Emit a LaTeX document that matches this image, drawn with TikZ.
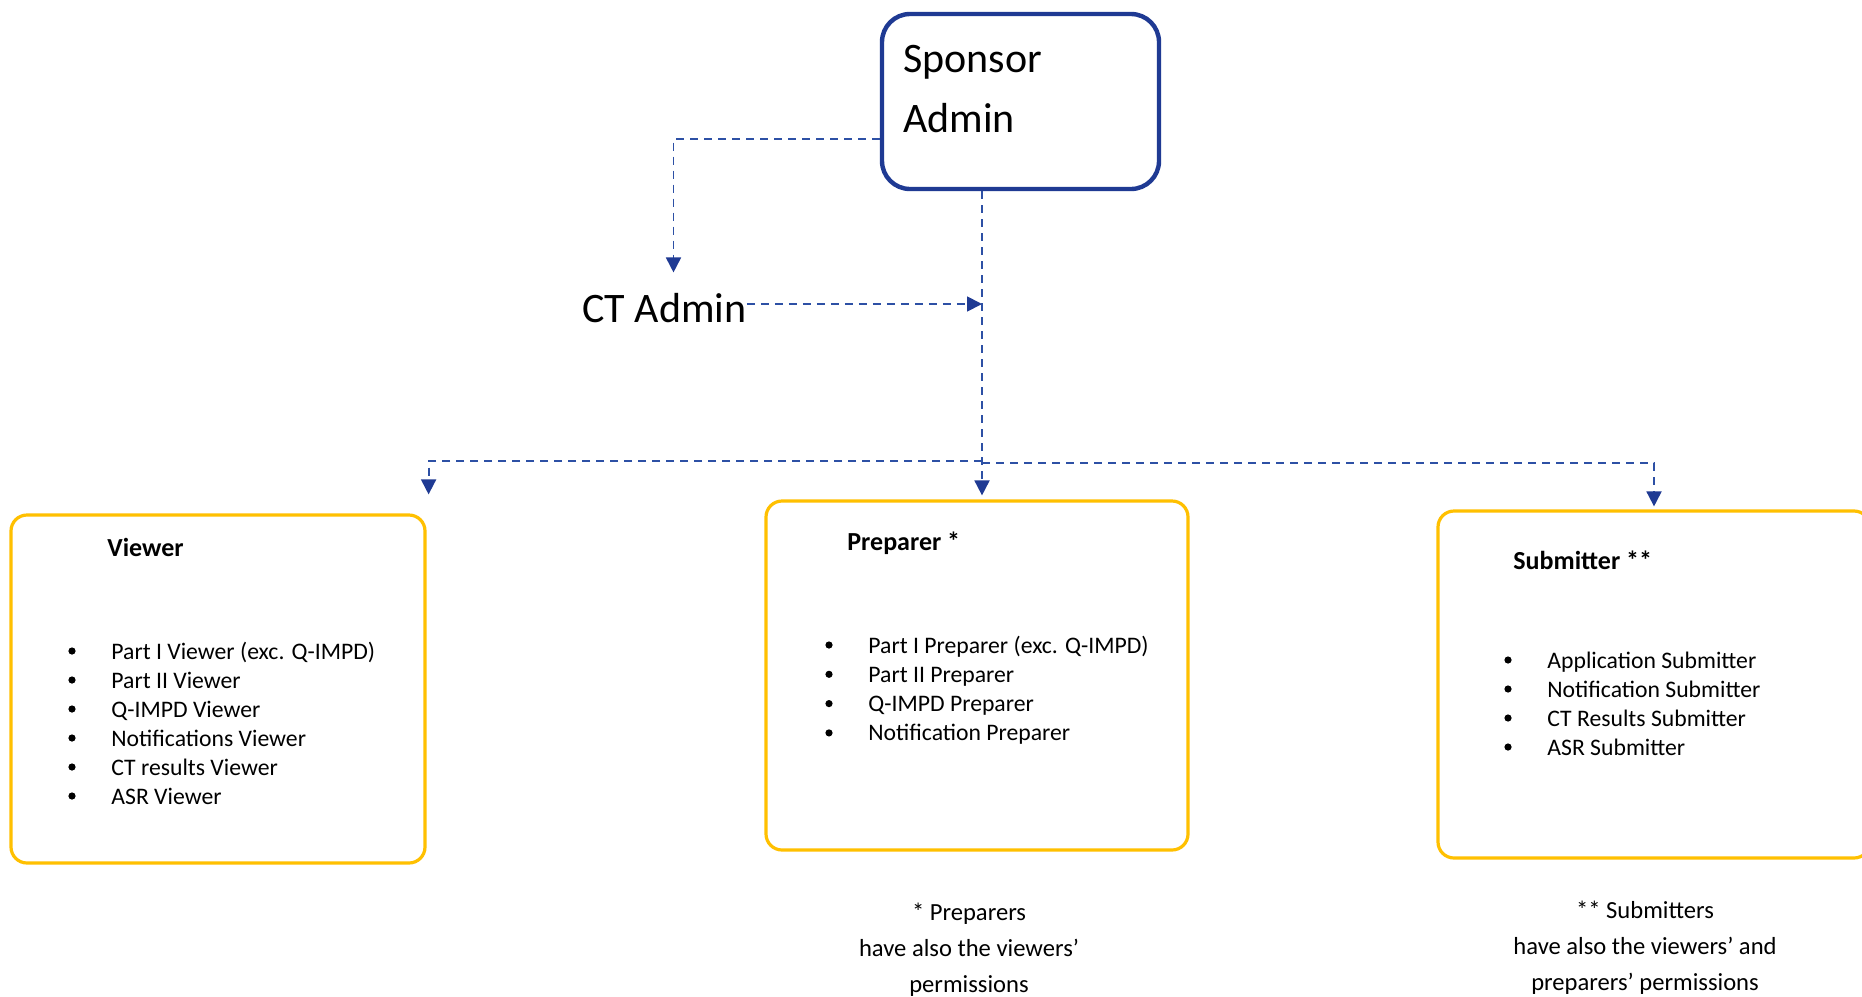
\documentclass[tikz,border=0pt]{standalone}
\usepackage{fontspec}
\setmainfont{Carlito}
\usetikzlibrary{arrows.meta}
\definecolor{navy}{RGB}{31,58,147}
\definecolor{dashblue}{RGB}{45,80,165}
\definecolor{gold}{RGB}{255,192,0}
\begin{document}
\begin{tikzpicture}[x=0.5pt,y=-0.5pt,
  sbox/.style={draw=navy,line width=2.2pt,rounded corners=14pt,minimum width=138.5pt,minimum height=87.5pt,inner sep=0pt},
  ybox/.style={draw=gold,line width=1.6pt,rounded corners=8pt,inner sep=0pt},
  bigtext/.style={font=\fontsize{21}{25}\selectfont,anchor=base west,inner sep=0pt},
  headtext/.style={font=\fontsize{13}{16}\bfseries\selectfont,anchor=base west,inner sep=0pt},
  itemtext/.style={font=\fontsize{11.85}{14}\selectfont,anchor=base west,inner sep=0pt},
  bullettext/.style={fill=black,circle,inner sep=0pt,minimum size=3.6pt},
  notetext/.style={font=\fontsize{12.3}{15}\selectfont,anchor=base,inner sep=0pt},
  conn/.style={draw=dashblue,line width=0.9pt,dash pattern=on 4pt off 3pt},
  arr/.style={-{Triangle[width=7.5pt,length=7.5pt,fill=navy,color=navy]}}
]
\path[use as bounding box,clip] (0,0) rectangle (1862,996);
\fill[white] (0,0) rectangle (1862,996);

% Sponsor Admin
\node[sbox] (sponsor) at (1020.5,101.5) {};
\node[bigtext] (sp1) at (903,72) {Sponsor};
\node[bigtext] (sp2) at (903,132) {Admin};

% CT Admin
\node[bigtext] (ct) at (582,322) {CT Admin};

% Boxes
\node[ybox,minimum width=207pt,minimum height=174pt] (viewer) at (218,689) {};
\node[ybox,minimum width=211pt,minimum height=174.5pt] (prep) at (977,675.5) {};
\node[ybox,minimum width=216pt,minimum height=173.5pt] (sub) at (1654,684.5) {};

% Headings
\node[headtext] (vh) at (107,556) {Viewer};
\node[headtext] (ph) at (847,550) {Preparer *};
\node[headtext] (sh) at (1513,569) {Submitter **};

% Viewer items
\foreach \t [count=\i] in {Part I Viewer (exc. Q-IMPD),Part II Viewer,Q-IMPD Viewer,Notifications Viewer,CT results Viewer,ASR Viewer}{
  \node[bullettext] (vb\i) at (72,{630+29*\i-8}) {};
  \node[itemtext] (vi\i) at (111,{630+29*\i}) {\t};
}
% Preparer items
\foreach \t [count=\i] in {Part I Preparer (exc. Q-IMPD),Part II Preparer,Q-IMPD Preparer,Notification Preparer}{
  \node[bullettext] (pb\i) at (829,{623.7+29.3*\i-8}) {};
  \node[itemtext] (pi\i) at (868,{623.7+29.3*\i}) {\t};
}
% Submitter items
\foreach \t [count=\i] in {Application Submitter,Notification Submitter,CT Results Submitter,ASR Submitter}{
  \node[bullettext] (sb\i) at (1508,{639+29*\i-8}) {};
  \node[itemtext] (si\i) at (1547,{639+29*\i}) {\t};
}

% Notes
\node[notetext] (n1a) at (969,920) {* Preparers};
\node[notetext] (n1b) at (969,956) {have also the viewers’};
\node[notetext] (n1c) at (969,992) {permissions};
\node[notetext] (n2a) at (1645,918) {** Submitters};
\node[notetext] (n2b) at (1645,954) {have also the viewers’ and};
\node[notetext] (n2c) at (1645,990) {preparers’ permissions};

% Junctions
\coordinate (ctj) at (982,304);
\coordinate (brl) at (982,461);
\coordinate (brr) at (982,463);

% Connectors
\draw[conn,arr] ([yshift=-18.75pt]sponsor.west) -| ([xshift=4.5pt,yshift=10pt]ct.north);
\draw[conn,arr] (ct.east |- ctj) -- (ctj);
\draw[conn,arr,shorten >=2pt] (sponsor.south -| ctj) -- (prep.north -| ctj);
\draw[conn,arr,shorten >=9.5pt] (brl) -| ([xshift=1pt]viewer.north east);
\draw[conn,arr,shorten >=1.5pt] (brr) -| (sub.north);
\end{tikzpicture}
\end{document}
